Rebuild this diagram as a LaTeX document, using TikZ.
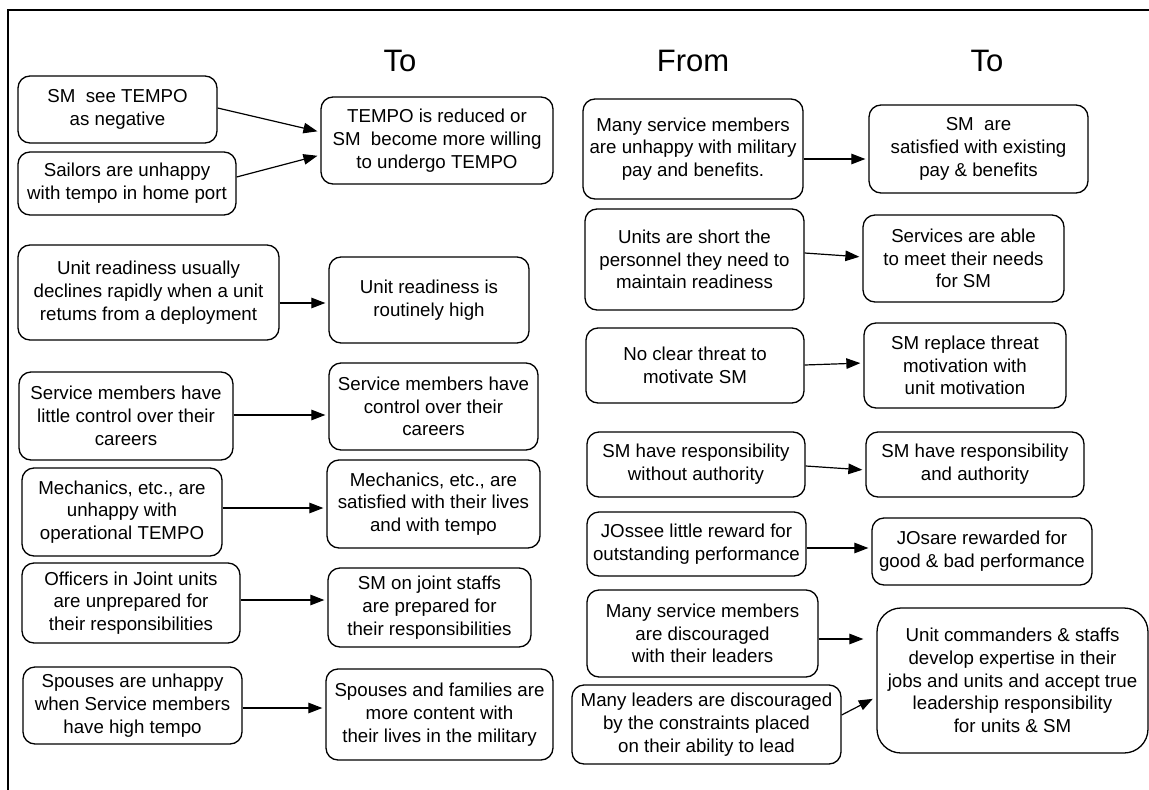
\documentclass[tikz,border=0pt]{standalone}
\usepackage{fontspec}
\setmainfont{Liberation Sans}
\usetikzlibrary{arrows.meta}
\begin{document}
\begin{tikzpicture}[x=1pt,y=-1pt,
  box/.style={draw, line width=1.3pt, rounded corners=12pt, align=center,
    inner sep=0pt, font=\fontsize{18.7}{22.7}\selectfont},
  sz/.style 2 args={minimum width=#1pt, minimum height=#2pt},
  head/.style={font=\fontsize{31}{36}\selectfont, anchor=base},
  arr/.style={-{Triangle[length=14pt,width=10.5pt]}, line width=1.2pt, shorten >=3pt},
]
\useasboundingbox (0,0) rectangle (1149,790);
% frame lines along the top and the left side
\draw[line width=1.4pt] (8,790) -- (8,10) -- (1149,10);

% column headings
\node[head] (h1) at (400,71) {To};
\node[head] (h2) at (693,71) {From};
\node[head] (h3) at (987,71) {To};

% left pairs
\node[box, sz={199}{67}] (A1) at (117.5,109.5) {SM\ \ see TEMPO\\as negative};
\node[box, sz={218}{63}] (A2) at (127,183.5) {Sailors are unhappy\\with tempo in home port};
\node[box, sz={232}{87}] (T1) at (437,140.5) {TEMPO is reduced or\\SM\ \ become more willing\\to undergo TEMPO};

\node[box, sz={261}{95}] (A3) at (148.5,292.5) {Unit readiness usually\\declines rapidly when a unit\\retums from a deployment};
\node[box, sz={200}{86}] (T3) at (429,300) {Unit readiness is\\routinely high};

\node[box, sz={214}{88}] (A4) at (126,416) {Service members have\\little control over their\\careers};
\node[box, sz={209}{87}] (T4) at (433.5,406.5) {Service members have\\control over their\\careers};

\node[box, sz={200}{88}] (A5) at (122,512) {Mechanics, etc., are\\unhappy with\\operational TEMPO};
\node[box, sz={213}{88}] (T5) at (433.5,504) {Mechanics, etc., are\\satisfied with their lives\\and with tempo};

\node[box, sz={218}{80}] (A6) at (131,603) {Officers in Joint units\\are unprepared for\\their responsibilities};
\node[box, sz={203}{79}] (T6) at (429.5,607.5) {SM on joint staffs\\are prepared for\\their responsibilities};

\node[box, sz={219}{77}] (A7) at (132.5,705.5) {Spouses are unhappy\\when Service members\\have high tempo};
\node[box, sz={227}{91}] (T7) at (439.5,714.5) {Spouses and families are\\more content with\\their lives in the military};

% right pairs
\node[box, sz={220}{100}] (B1) at (693,149) {Many service members\\are unhappy with military\\pay and benefits.};
\node[box, sz={219}{88}] (C1) at (978.5,149) {SM\ \ are\\satisfied with existing\\pay \& benefits};

\node[box, sz={219}{101}] (B2) at (694.5,259.5) {Units are short the\\personnel they need to\\maintain readiness};
\node[box, sz={201}{87}] (C2) at (963.5,258.5) {Services are able\\to meet their needs\\for SM};

\node[box, sz={218}{75}] (B3) at (695,365.5) {No clear threat to\\motivate SM};
\node[box, sz={202}{85}] (C3) at (965,365.5) {SM replace threat\\motivation with\\unit motivation};

\node[box, sz={218}{65}] (B4) at (696,464.5) {SM have responsibility\\without authority};
\node[box, sz={218}{65}] (C4) at (975,464.5) {SM have responsibility\\and authority};

\node[box, sz={219}{64}] (B5) at (696.5,544) {JOssee little reward for\\outstanding performance};
\node[box, sz={220}{67}] (C5) at (982,551.5) {JOsare rewarded for\\good \& bad performance};

\node[box, sz={231}{87}] (B6) at (702.5,633.5) {Many service members\\are discouraged\\with their leaders};
\node[box, sz={269}{79}] (B7) at (706.5,724.5) {Many leaders are discouraged\\by the constraints placed\\on their ability to lead};
\node[box, sz={271}{145}, rounded corners=24pt] (C6) at (1012.5,680.5) {Unit commanders \& staffs\\develop expertise in their\\jobs and units and accept true\\leadership responsibility\\for units \& SM};

% connectors, left half
\draw[arr] ([yshift=1.5pt]A1.east) -- ([yshift=8.5pt]T1.west);
\draw[arr] ([yshift=6.5pt]A2.east) -- ([yshift=-14.5pt]T1.west);
\draw[arr] ([yshift=-10.5pt]A3.east) -- ([yshift=-3pt]T3.west);
\draw[arr] ([yshift=1pt]A4.east) -- ([yshift=-8.5pt]T4.west);
\draw[arr] ([yshift=4pt]A5.east) -- ([yshift=-4pt]T5.west);
\draw[arr] ([yshift=3pt]A6.east) -- ([yshift=7.5pt]T6.west);
\draw[arr] ([yshift=-2.5pt]A7.east) -- ([yshift=6.5pt]T7.west);

% connectors, right half
\draw[arr] ([yshift=-10pt]B1.east) -- ([yshift=-10pt]C1.west);
\draw[arr] ([yshift=6.5pt]B2.east) -- ([yshift=1.5pt]C2.west);
\draw[arr] ([yshift=0.5pt]B3.east) -- ([yshift=2.5pt]C3.west);
\draw[arr] ([yshift=-1.5pt]B4.east) -- ([yshift=-5.5pt]C4.west);
\draw[arr] ([yshift=-4pt]B5.east) -- ([yshift=3.5pt]C5.west);
\draw[arr, shorten >=13pt] ([yshift=-5.5pt]B6.east) -- ([yshift=41.5pt]C6.west);
\draw[arr, shorten >=4pt] ([yshift=9.5pt]B7.east) -- ([yshift=-16.5pt]C6.west);
\end{tikzpicture}
\end{document}
